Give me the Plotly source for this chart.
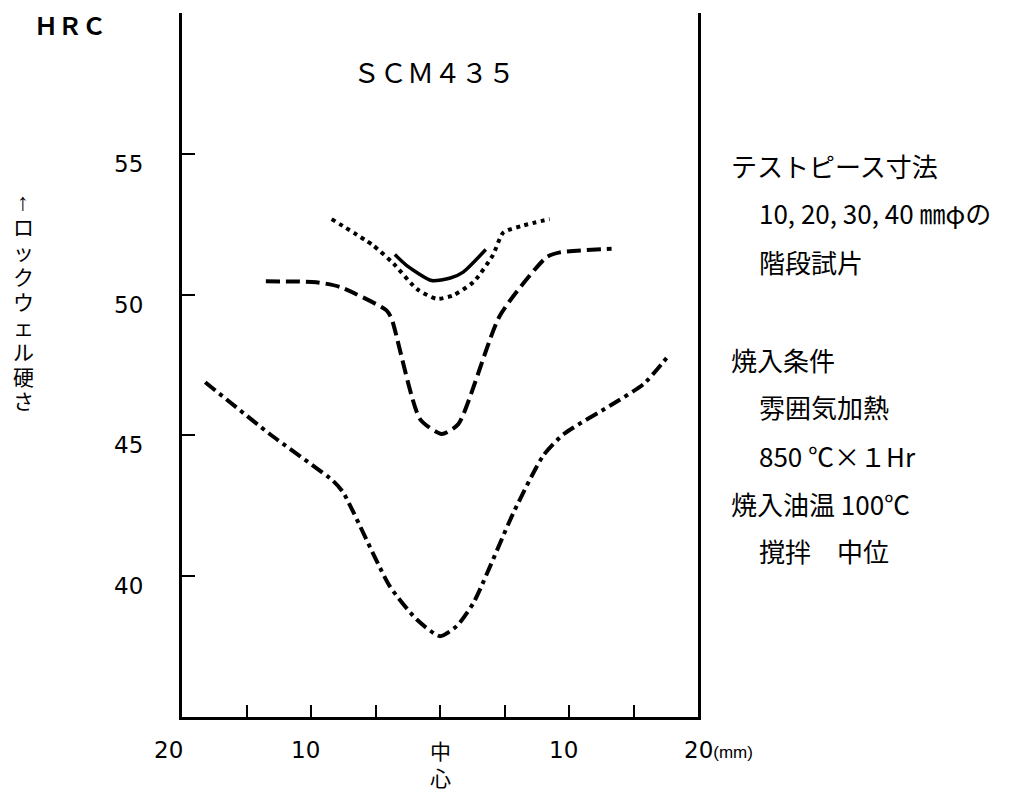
import plotly.graph_objects as go

# ---- data (distance from center in mm, hardness HRC) ----
solid_x = [-3.5, -2.6, -0.65, 0.8, 1.8, 3.55]
solid_y = [51.42, 51.04, 50.5, 50.59, 50.8, 51.6]

dot_x = [-8.4, -5.2, -3.6, -1.8, -0.26, 1.0, 2.6, 4.1, 4.9, 6.5, 8.5]
dot_y = [52.68, 51.75, 51.1, 50.2, 49.85, 49.97, 50.45, 51.4, 52.2, 52.46, 52.68]

dash_x = [-13.5, -9.6, -7.75, -4.15, -3.75, -1.55, 0.13, 1.42, 4.65, 8.27, 9.3, 13.3]
dash_y = [50.47, 50.44, 50.27, 49.44, 49.14, 45.58, 45.05, 45.4, 49.26, 51.33, 51.5, 51.63]

dashdot_x = [-18.2, -13.2, -8.3, -7.5, -3.9, -1.8, 0.0, 1.3, 2.6, 5.7, 8.0, 9.6, 13.2, 15.8, 17.8]
dashdot_y = [46.89, 45.05, 43.39, 42.97, 39.65, 38.46, 37.87, 38.23, 39.06, 42.26, 44.28, 45.05, 46.06, 46.83, 47.88]

y_tick_vals = [40, 45, 50, 55]
y_tick_text = ["40", "45", "50", "55"]
x_minor_ticks = [-20, -15, -10, -5, 0, 5, 10, 15, 20]
x_label_vals = [-20, -10, 0, 10, 20]
x_label_text = ["20", "10", "中<br>心", "10", "20<span style='font-family:Liberation Sans;font-size:17px'>(mm)</span>"]

ytitle_chars = ["↑", "ロ", "ッ", "ク", "ウ", "ェ", "ル", "硬", "さ"]
unit_label = "ＨＲＣ"
title_text = "ＳＣＭ４３５"

info_lines = [
    ("テストピース寸法", 0, 165),
    ("10, 20, 30, 40 ㎜φの", 1, 213),
    ("階段試片", 1, 262),
    ("焼入条件", 0, 359),
    ("雰囲気加熱", 1, 407),
    ("850 ℃×１Hr", 1, 455),
    ("焼入油温 100℃", 0, 503),
    ("撹拌　中位", 1, 550),
]

W, H = 1013, 794
OFF = 8  # default page body margin
L, R, T, B = 182, 698, 13, 717

def px(xp):
    return (xp - L) / (R - L)

def py(yp):
    return (B - yp) / (B - T)

CJK = "Noto Sans CJK JP"
NUM = "DejaVu Sans"

fig = go.Figure()
common = dict(mode="lines", line_shape="spline", showlegend=False, hoverinfo="skip")
fig.add_trace(go.Scatter(x=dot_x, y=dot_y, line=dict(color="black", width=4, dash="4px,4.5px", smoothing=0.6), **common))
fig.add_trace(go.Scatter(x=solid_x, y=solid_y, line=dict(color="black", width=3.5, smoothing=0.6), **common))
fig.add_trace(go.Scatter(x=dash_x, y=dash_y, line=dict(color="black", width=4, dash="14px,6px", smoothing=0.6), **common))
fig.add_trace(go.Scatter(x=dashdot_x, y=dashdot_y, line=dict(color="black", width=4, dash="13px,5px,4px,5px", smoothing=0.6), **common))

annotations = []
# y tick labels
for v, t in zip(y_tick_vals, y_tick_text):
    annotations.append(dict(x=px(128), xref="paper", y=v, yref="y", text=t, showarrow=False,
                            xanchor="center", yanchor="middle", yshift=-10,
                            font=dict(family=NUM, size=23, color="black")))
# x tick labels
xshifts = {-20: -14, -10: -6, 0: 0, 10: -6, 20: 0}
for v, t in zip(x_label_vals, x_label_text):
    if v == 0:
        annotations.append(dict(x=v, xref="x", y=py(733), yref="paper", text=t, showarrow=False,
                                xanchor="center", yanchor="top",
                                font=dict(family=CJK, size=21, color="black")))
    elif v == 20:
        annotations.append(dict(x=v, xref="x", y=py(750), yref="paper", text=t, showarrow=False,
                                xanchor="left", yanchor="middle", xshift=-16,
                                font=dict(family=NUM, size=23, color="black")))
    else:
        annotations.append(dict(x=v, xref="x", y=py(750), yref="paper", text=t, showarrow=False,
                                xanchor="center", yanchor="middle", xshift=xshifts[v],
                                font=dict(family=NUM, size=23, color="black")))

# HRC label
annotations.append(dict(x=px(70), xref="paper", y=py(24), yref="paper", text="<b>" + unit_label + "</b>",
                        showarrow=False, xanchor="center", yanchor="middle",
                        font=dict(family=CJK, size=24, color="black")))
# Title
annotations.append(dict(x=px(434), xref="paper", y=py(71), yref="paper", text=title_text,
                        showarrow=False, xanchor="center", yanchor="middle",
                        font=dict(family=CJK, size=27, color="black")))
# Vertical y-axis title (upright characters, one per row, 25 px apart)
for i, ch in enumerate(ytitle_chars):
    is_arrow = (i == 0)
    annotations.append(dict(x=px(23), xref="paper", y=py(201 if is_arrow else 202 + 25 * i), yref="paper",
                            text=ch, showarrow=False, xanchor="center", yanchor="middle",
                            font=dict(family="Liberation Sans, Noto Sans CJK JP",
                                      size=24 if is_arrow else 21, color="black")))
# Right info block
for text, indent, yp in info_lines:
    annotations.append(dict(x=px(729 + 28 * indent), xref="paper", y=py(yp), yref="paper",
                            text=text, showarrow=False, xanchor="left", yanchor="middle",
                            font=dict(family=CJK, size=26, color="black")))

fig.update_layout(
    width=W - OFF, height=H - OFF, autosize=False,
    margin=dict(l=L - OFF, r=W - R, t=T - OFF, b=H - B, pad=0),
    paper_bgcolor="white", plot_bgcolor="white",
    annotations=annotations,
    xaxis=dict(range=[-20, 20], showgrid=False, zeroline=False, showline=True,
               linecolor="black", linewidth=2.5, ticks="inside", ticklen=12, tickwidth=2,
               tickcolor="black", tickvals=x_minor_ticks, showticklabels=False),
    yaxis=dict(range=[35, 60], showgrid=False, zeroline=False, showline=True, mirror=True,
               linecolor="black", linewidth=2.5, ticks="inside", ticklen=13, tickwidth=2,
               tickcolor="black", tickvals=y_tick_vals, showticklabels=False),
)

fig.write_html("out.html")
